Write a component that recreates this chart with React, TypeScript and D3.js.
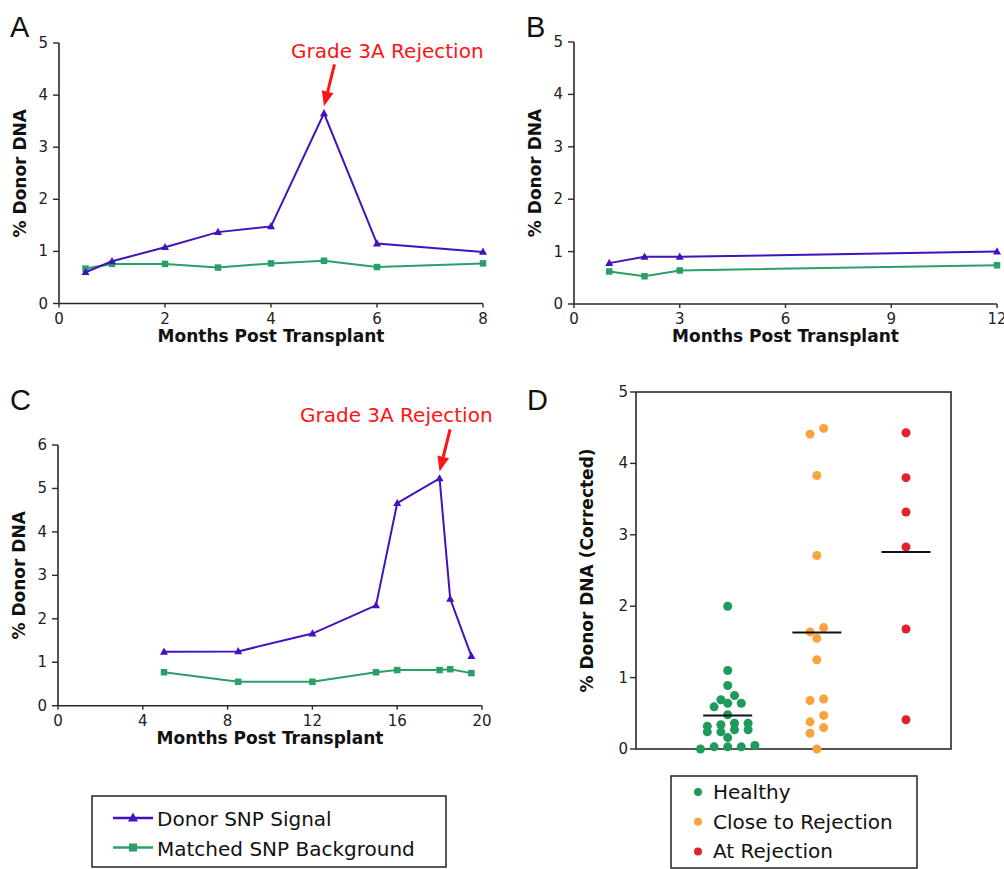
import React from "react";
import * as d3 from "d3";

// ---------- DATA ----------
const monthsA = [0.5, 1, 2, 3, 4, 5, 6, 8];
const donorA = [0.6, 0.81, 1.08, 1.37, 1.48, 3.65, 1.15, 0.99];
const backgroundA = [0.67, 0.76, 0.76, 0.69, 0.77, 0.82, 0.7, 0.77];
const xTicksA = [0, 2, 4, 6, 8];
const yTicksAB = [0, 1, 2, 3, 4, 5];

const monthsB = [1, 2, 3, 12];
const donorB = [0.78, 0.9, 0.9, 1.0];
const backgroundB = [0.62, 0.53, 0.64, 0.74];
const xTicksB = [0, 3, 6, 9, 12];

const monthsC = [5, 8.5, 12, 15, 16, 18, 18.5, 19.5];
const donorC = [1.24, 1.25, 1.66, 2.31, 4.66, 5.23, 2.46, 1.14];
const backgroundC = [0.77, 0.55, 0.55, 0.77, 0.82, 0.82, 0.84, 0.75];
const xTicksC = [0, 4, 8, 12, 16, 20];
const yTicksC = [0, 1, 2, 3, 4, 5, 6];

const groups = ["Healthy", "Close to Rejection", "At Rejection"];
const healthyValues = [2.0, 1.1, 0.89, 0.69, 0.75, 0.59, 0.64, 0.64, 0.48, 0.32, 0.34, 0.36, 0.36, 0.24, 0.24, 0.27, 0.27, 0.16, 0.0, 0.03, 0.03, 0.03, 0.05];
const healthySlots = [0, 0, 0, -1, 1, -2, 0, 2, 0, -3, -1, 1, 3, -3, -1, 1, 3, 0, -4, -2, 0, 2, 4];
const closeValues = [4.41, 4.49, 3.83, 2.71, 1.64, 1.7, 1.55, 1.25, 0.68, 0.7, 0.47, 0.38, 0.3, 0.22, 0.0];
const closeSlots = [-1, 1, 0, 0, -1, 1, 0, 0, -1, 1, 1, -1, 1, -1, 0];
const atValues = [4.43, 3.8, 3.32, 2.83, 1.68, 0.41];
const atSlots = [0, 0, 0, 0, 0, 0];
const groupMedians = [0.47, 1.63, 2.76];
const yTicksD = [0, 1, 2, 3, 4, 5];

const seriesNames = ["Donor SNP Signal", "Matched SNP Background"];

// ---------- STYLE ----------
const PURPLE = "#4212bd";
const GREEN = "#2a9f68";
const DOT_COLORS = ["#1e9a5c", "#f9a23e", "#e0222e"];
const RED = "#ff1414";
const AXIS = "#2a2a2a";
const FONT = "DejaVu Sans";

type LineProps = {
  xr: [number, number];
  yr: [number, number];
  xDomain: [number, number];
  yDomain: [number, number];
  xTicks: number[];
  yTicks: number[];
  months: number[];
  donor: number[];
  background: number[];
  letter: string;
  letterPos: [number, number];
  annotateIndex?: number;
  annotateText?: [number, number];
};

function Triangle({ x, y, s, color }: { x: number; y: number; s: number; color: string }) {
  const h = s * 0.9;
  return <path d={`M${x},${y - h * 0.6}L${x + s / 2},${y + h * 0.4}L${x - s / 2},${y + h * 0.4}Z`} fill={color} />;
}

function Square({ x, y, s, color }: { x: number; y: number; s: number; color: string }) {
  return <rect x={x - s / 2} y={y - s / 2} width={s} height={s} fill={color} />;
}

function LinePanel(p: LineProps) {
  const x = d3.scaleLinear().domain(p.xDomain).range(p.xr);
  const y = d3.scaleLinear().domain(p.yDomain).range(p.yr);
  const line = d3
    .line<[number, number]>()
    .x((d) => x(d[0]))
    .y((d) => y(d[1]));
  const donorPts: [number, number][] = p.months.map((m, i) => [m, p.donor[i]]);
  const bgPts: [number, number][] = p.months.map((m, i) => [m, p.background[i]]);
  let arrow = null;
  if (p.annotateIndex !== undefined && p.annotateText) {
    const tx = x(p.months[p.annotateIndex]);
    const ty = y(p.donor[p.annotateIndex]) - 7;
    const dx = 10.5,
      dy = -42;
    const len = Math.hypot(dx, dy);
    const ux = dx / len,
      uy = dy / len;
    const headL = 15,
      headW = 6;
    const bx = tx + ux * headL,
      by = ty + uy * headL;
    arrow = (
      <g>
        <line x1={bx} y1={by} x2={tx + dx} y2={ty + dy} stroke={RED} strokeWidth={3} />
        <path
          d={`M${tx},${ty}L${bx - uy * headW},${by + ux * headW}L${bx + uy * headW},${by - ux * headW}Z`}
          fill={RED}
        />
        <text x={p.annotateText[0]} y={p.annotateText[1]} fill={RED} fontFamily={FONT} fontSize={20}>
          Grade 3A Rejection
        </text>
      </g>
    );
  }
  return (
    <g>
      <text x={p.letterPos[0]} y={p.letterPos[1]} fontFamily="Liberation Sans" fontSize={29} fill="#111">
        {p.letter}
      </text>
      {/* axes */}
      <line x1={p.xr[0]} x2={p.xr[0]} y1={p.yr[0]} y2={p.yr[1]} stroke={AXIS} strokeWidth={1.6} />
      <line x1={p.xr[0]} x2={p.xr[1]} y1={p.yr[0]} y2={p.yr[0]} stroke={AXIS} strokeWidth={1.6} />
      {p.yTicks.map((t) => (
        <g key={"y" + t}>
          <line x1={p.xr[0] - 6} x2={p.xr[0]} y1={y(t)} y2={y(t)} stroke={AXIS} strokeWidth={1.4} />
          <text x={p.xr[0] - 11} y={y(t) + 5} textAnchor="end" fontFamily={FONT} fontSize={15} fill="#222">
            {t}
          </text>
        </g>
      ))}
      {p.xTicks.map((t) => (
        <g key={"x" + t}>
          <line x1={x(t)} x2={x(t)} y1={p.yr[0]} y2={p.yr[0] + 4} stroke={AXIS} strokeWidth={1.4} />
          <text x={x(t)} y={p.yr[0] + 20} textAnchor="middle" fontFamily={FONT} fontSize={15} fill="#222">
            {t}
          </text>
        </g>
      ))}
      <text
        x={(p.xr[0] + p.xr[1]) / 2}
        y={p.yr[0] + 38}
        textAnchor="middle"
        fontFamily={FONT}
        fontWeight="bold"
        fontSize={17}
        fill="#111"
      >
        Months Post Transplant
      </text>
      <text
        transform={`translate(${p.xr[0] - 33},${(p.yr[0] + p.yr[1]) / 2}) rotate(-90)`}
        textAnchor="middle"
        fontFamily={FONT}
        fontWeight="bold"
        fontSize={17}
        fill="#111"
      >
        % Donor DNA
      </text>
      {/* series */}
      <path d={line(bgPts) || ""} fill="none" stroke={GREEN} strokeWidth={2} />
      {bgPts.map((d, i) => (
        <Square key={"s" + i} x={x(d[0])} y={y(d[1])} s={6.5} color={GREEN} />
      ))}
      <path d={line(donorPts) || ""} fill="none" stroke={PURPLE} strokeWidth={2} />
      {donorPts.map((d, i) => (
        <Triangle key={"t" + i} x={x(d[0])} y={y(d[1])} s={8} color={PURPLE} />
      ))}
      {arrow}
    </g>
  );
}

function DotPanel() {
  const xr: [number, number] = [636, 951];
  const yr: [number, number] = [749, 392];
  const y = d3.scaleLinear().domain([0, 5]).range(yr);
  const x = d3.scalePoint<string>().domain(groups).range([727.7, 906]);
  const slotW = 6.8;
  const sets = [
    { v: healthyValues, s: healthySlots },
    { v: closeValues, s: closeSlots },
    { v: atValues, s: atSlots },
  ];
  return (
    <g>
      <text x={527} y={410} fontFamily="Liberation Sans" fontSize={29} fill="#111">
        D
      </text>
      <rect x={xr[0]} y={yr[1]} width={xr[1] - xr[0]} height={yr[0] - yr[1]} fill="none" stroke={AXIS} strokeWidth={1.6} />
      {yTicksD.map((t) => (
        <g key={t}>
          <line x1={xr[0] - 6} x2={xr[0]} y1={y(t)} y2={y(t)} stroke={AXIS} strokeWidth={1.4} />
          <text x={xr[0] - 8} y={y(t) + 5} textAnchor="end" fontFamily={FONT} fontSize={15} fill="#222">
            {t}
          </text>
        </g>
      ))}
      <text
        transform={`translate(${593},${(yr[0] + yr[1]) / 2}) rotate(-90)`}
        textAnchor="middle"
        fontFamily={FONT}
        fontWeight="bold"
        fontSize={17}
        fill="#111"
      >
        % Donor DNA (Corrected)
      </text>
      {sets.map((set, gi) =>
        set.v.map((v, i) => (
          <circle
            key={gi + "-" + i}
            cx={(x(groups[gi]) as number) + set.s[i] * slotW}
            cy={y(v)}
            r={4.5}
            fill={DOT_COLORS[gi]}
          />
        ))
      )}
      {groupMedians.map((m, gi) => (
        <line
          key={"m" + gi}
          x1={(x(groups[gi]) as number) - 24.5}
          x2={(x(groups[gi]) as number) + 24.5}
          y1={y(m)}
          y2={y(m)}
          stroke="#111"
          strokeWidth={2}
        />
      ))}
    </g>
  );
}

function Legends() {
  return (
    <g>
      <rect x={92} y={796} width={354} height={71} fill="none" stroke="#222" strokeWidth={1.5} />
      {seriesNames.map((n, i) => {
        const yy = 818 + i * 29.5;
        return (
          <g key={n}>
            <line x1={113} x2={153} y1={yy} y2={yy} stroke={i === 0 ? PURPLE : GREEN} strokeWidth={2.5} />
            {i === 0 ? (
              <Triangle x={133} y={yy} s={10} color={PURPLE} />
            ) : (
              <Square x={133} y={yy} s={8} color={GREEN} />
            )}
            <text x={157} y={yy + 8} fontFamily={FONT} fontSize={20} fill="#111">
              {n}
            </text>
          </g>
        );
      })}
      <rect x={671} y={776} width={246} height={92} fill="none" stroke="#222" strokeWidth={1.5} />
      {groups.map((g, i) => {
        const yy = 792 + i * 29.7;
        return (
          <g key={g}>
            <circle cx={698} cy={yy} r={4} fill={DOT_COLORS[i]} />
            <text x={713} y={yy + 7} fontFamily={FONT} fontSize={20} fill="#111">
              {g}
            </text>
          </g>
        );
      })}
    </g>
  );
}

export default function App() {
  return (
    <svg
      width={1004}
      height={869}
      style={{ position: "absolute", left: 0, top: 0, background: "#fff" }}
    >
      <rect width={1004} height={869} fill="#fff" />
      <LinePanel
        xr={[59, 483]}
        yr={[303.5, 43]}
        xDomain={[0, 8]}
        yDomain={[0, 5]}
        xTicks={xTicksA}
        yTicks={yTicksAB}
        months={monthsA}
        donor={donorA}
        background={backgroundA}
        letter="A"
        letterPos={[10, 37]}
        annotateIndex={5}
        annotateText={[291, 58]}
      />
      <LinePanel
        xr={[574, 997]}
        yr={[304, 42]}
        xDomain={[0, 12]}
        yDomain={[0, 5]}
        xTicks={xTicksB}
        yTicks={yTicksAB}
        months={monthsB}
        donor={donorB}
        background={backgroundB}
        letter="B"
        letterPos={[526, 37]}
      />
      <LinePanel
        xr={[58, 482]}
        yr={[705.7, 445]}
        xDomain={[0, 20]}
        yDomain={[0, 6]}
        xTicks={xTicksC}
        yTicks={yTicksC}
        months={monthsC}
        donor={donorC}
        background={backgroundC}
        letter="C"
        letterPos={[10, 410]}
        annotateIndex={5}
        annotateText={[300, 422]}
      />
      <DotPanel />
      <Legends />
    </svg>
  );
}
